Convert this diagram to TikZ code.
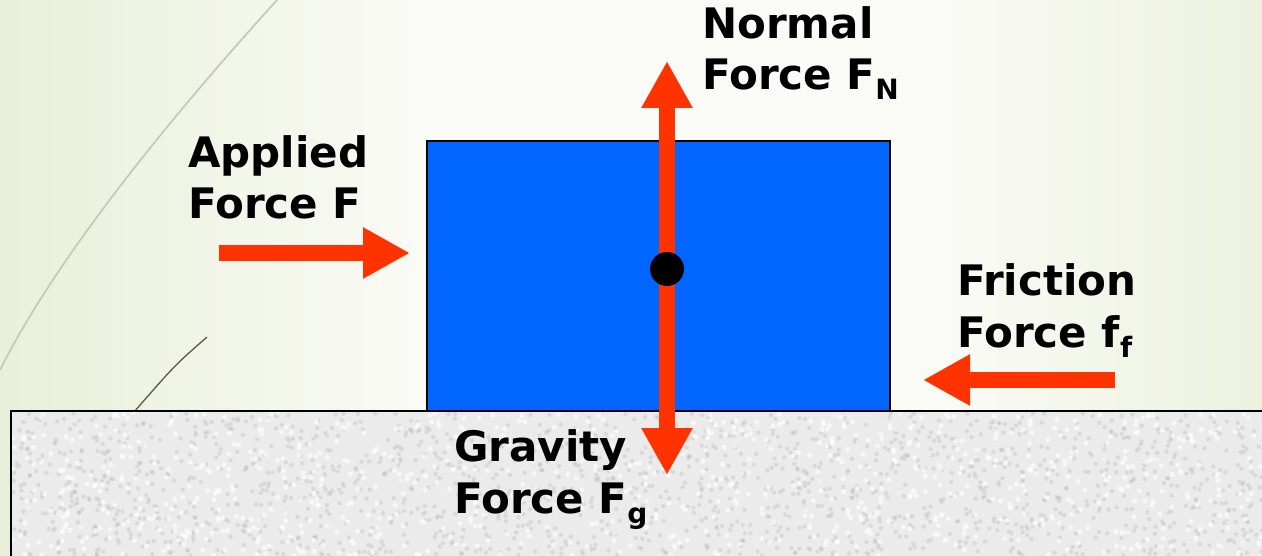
\documentclass[tikz,border=0pt]{standalone}
\usepackage{fontspec}
\setmainfont{DejaVu Sans}
\usetikzlibrary{arrows.meta}
\definecolor{bgside}{RGB}{233,239,217}
\definecolor{bgmid}{RGB}{250,251,246}
\definecolor{frc}{RGB}{255,51,0}
\definecolor{blk}{RGB}{0,102,255}
\definecolor{grnd}{RGB}{235,235,235}
\pgfdeclarehorizontalshading{backdrop}{100bp}{color(0bp)=(bgside); color(25bp)=(bgside);
  color(42bp)=(bgmid); color(62bp)=(bgmid); color(75bp)=(bgside!80!bgmid); color(100bp)=(bgside)}
\newcommand{\lowsub}[1]{\raisebox{-10pt}{\fontsize{28}{28}\selectfont #1}}

\begin{document}
\begin{tikzpicture}[x=1pt,y=-1pt,font=\fontsize{42}{51.5}\selectfont\bfseries,
    force/.style={draw=frc, line width=16pt, -{Triangle[length=47pt,width=48pt]}},
    lbl/.style={anchor=base west, align=left, inner sep=0pt}]
    \useasboundingbox (0,0) rectangle (1262,556);
    \clip (0,0) rectangle (1262,556);
    % backdrop
    \shade[shading=backdrop] (0,0) rectangle (1262,556);
    \draw[color=black!15!bgside, line width=1.8pt] (277,0) .. controls (150,140) and (50,270) .. (0,370);
    \draw[color={rgb,255:red,95;green,88;blue,70}, line width=1.3pt] (207,337) .. controls (175,365) .. (134,412);
    % ground
    \fill[grnd] (11,411) rectangle (1262,556);
    \pgfmathsetseed{42}
    \foreach \i in {1,...,1600}{
      \pgfmathsetmacro\sx{12+1250*rnd}
      \pgfmathsetmacro\sy{413+143*rnd}
      \fill[black!30, opacity=0.3] (\sx,\sy) circle (2.2pt);
    }
    \foreach \i in {1,...,900}{
      \pgfmathsetmacro\sx{12+1250*rnd}
      \pgfmathsetmacro\sy{413+143*rnd}
      \fill[white, opacity=0.6] (\sx,\sy) circle (2.5pt);
    }
    \draw[line width=2.5pt] (11,556) -- (11,411) -- (1262,411);
    % block
    \node[draw=black, line width=2.5pt, fill=blk, minimum width=463pt, minimum height=270pt,
      inner sep=0pt] (block) at (658.5,276) {};
    % forces
    \coordinate (c) at (667,269);
    \coordinate (nTip) at (667,61);
    \coordinate (gTip) at (667,475);
    \coordinate (aTail) at (219,253);
    \coordinate (aTip) at (410,253);
    \coordinate (fTail) at (1115,380);
    \coordinate (fTip) at (923,380);
    \draw[force] (c) -- (nTip);
    \draw[force] (c) -- (gTip);
    \draw[force] (aTail) -- (aTip);
    \draw[force] (fTail) -- (fTip);
    \node[circle, fill=black, minimum size=34pt, inner sep=0pt] (cg) at (c) {};
    % labels
    \node[lbl] (applied) at (188,219) {Applied\\Force F};
    \node[lbl] (normal) at (702,90) {Normal\\Force F\lowsub{N}};
    \node[lbl] (friction) at (957,347) {Friction\\Force f\lowsub{f}};
    \node[lbl] (gravity) at (454,513) {Gravity\\Force F\lowsub{g}};
  \end{tikzpicture}
\end{document}
